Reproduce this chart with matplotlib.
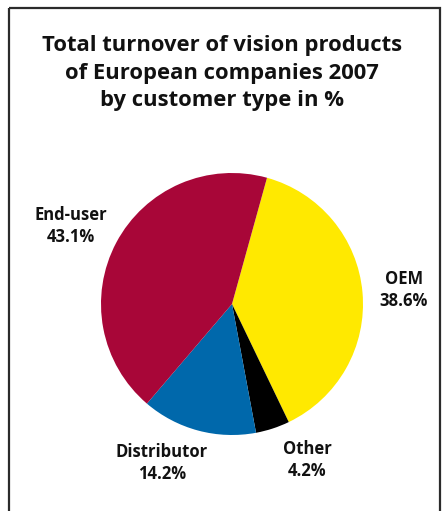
import matplotlib
matplotlib.use("Agg")
import matplotlib.pyplot as plt
from matplotlib.patches import Rectangle

TITLE = "Total turnover of vision products\nof European companies 2007\nby customer type in %"

# clockwise from the top, starting with OEM
segments = ["OEM", "Other", "Distributor", "End-user"]
shares = [38.6, 4.2, 14.2, 43.1]
colors = ["#FFE900", "#000000", "#0068AB", "#A80638"]

# label anchor points (pixel coords, y from top)
label_xy = {
    "OEM": (404, 290),
    "Other": (307, 460),
    "Distributor": (162, 463),
    "End-user": (71, 226),
}

W, H = 446, 511
FONT = ["Open Sans", "DejaVu Sans"]

fig = plt.figure(figsize=(W / 100, H / 100), dpi=100)
ax = fig.add_axes([0, 0, 1, 1])

# frame around the chart
ax.add_patch(Rectangle((8.5, 8), 431, 520, fill=False, edgecolor="#2b2b2b",
                       linewidth=1.6))

ax.text(222, 73, TITLE, ha="center", va="center", fontsize=15.8,
        fontweight="bold", family=FONT, linespacing=1.4, color="#111111")

# y axis is inverted, so counterclock=True runs clockwise on screen
ax.pie(shares, colors=colors, center=(232, 304), radius=131,
       startangle=-74.5, counterclock=True, frame=True,
       wedgeprops=dict(linewidth=0))
ax.set_xlim(0, W)
ax.set_ylim(H, 0)
ax.set_aspect("equal")
ax.axis("off")

for name, val in zip(segments, shares):
    x, y = label_xy[name]
    ax.text(x, y, f"{name}\n{val}%", ha="center", va="center", fontsize=12,
            fontweight="bold", family=FONT, linespacing=1.35, color="#111111")

fig.savefig("out.png", dpi=100)
